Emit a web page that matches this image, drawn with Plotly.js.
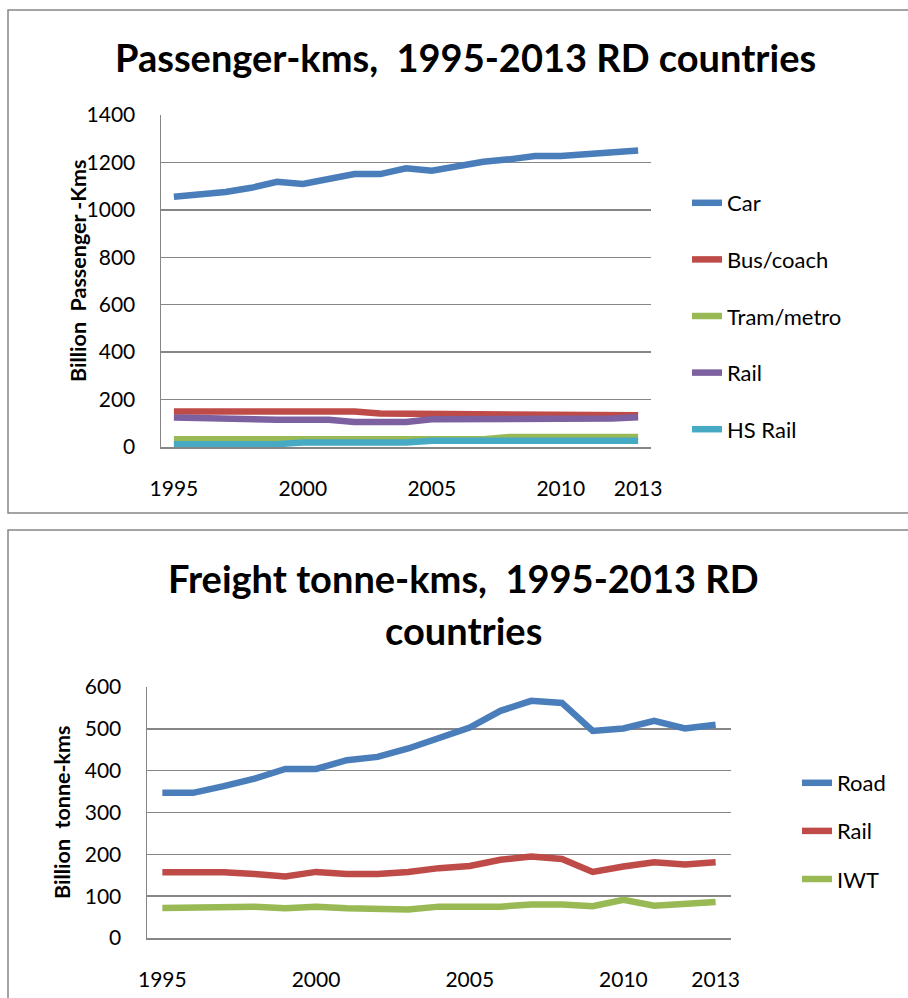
<!DOCTYPE html>
<html>
<head>
<meta charset="utf-8">
<script src="https://cdn.plot.ly/plotly-3.0.1.min.js"></script>
<style>
html,body{margin:0;padding:0;background:#fff;}
#chart{width:908px;height:998px;}
</style>
</head>
<body>
<div id="chart"></div>
<script>
// ---- Data ----
const years = [1995,1996,1997,1998,1999,2000,2001,2002,2003,2004,2005,2006,2007,2008,2009,2010,2011,2012,2013];
const tickYears = [1995,2000,2005,2010,2013];
const tickLabels = ["1995","2000","2005","2010","2013"];

// Passenger-kms (billion)
const car     = [1055,1065,1075,1093,1118,1109,1133,1151,1151,1175,1165,1185,1203,1213,1227,1227,1235,1242,1250];
const bus     = [150,150,150,150,150,150,150,150,141,140,140,140,140,140,135,135,135,131,134];
const rail    = [124,121,115,115,115,115,115,105,105,105,117,117,117,117,117,117,117,120,125];
const tram    = [33,33,33,33,33,33,33,33,33,33,33,33,33,42,42,42,42,42,42];
const hsRail  = [12,12,12,12,12,19,19,19,19,19,26,26,26,26,26,26,26,26,26];

// Freight tonne-kms (billion)
const road    = [347,347,363,381,404,404,425,433,453,477,503,543,567,562,495,501,519,501,510];
const fRail   = [157,157,157,153,147,158,153,153,158,167,172,187,195,189,158,171,181,176,181];
const iwt     = [72,72,72,75,71,75,71,71,68,75,75,75,80,80,76,91,77,81,86];

const passNames = ["Car","Bus/coach","Tram/metro","Rail","HS Rail"];
const passSeries = [car,bus,tram,rail,hsRail];
const passColors = ["#4A7EBB","#BE4B48","#98B954","#7D60A0","#46AAC5"];

const freightNames = ["Road","Rail","IWT"];
const freightSeries = [road,fRail,iwt];
const freightColors = ["#4A7EBB","#BE4B48","#98B954"];

// ---- Helpers ----
const W = 908, H = 998;
const px = v => v / W;
const py = v => 1 - v / H;
const FONT = "Lato, 'Open Sans', sans-serif";
const GRID = "#868686";
const LW = 6.5;

const traces = [];
passSeries.forEach((s, i) => {
  traces.push({
    x: years, y: s, name: passNames[i], type: "scatter", mode: "lines",
    line: {color: passColors[i], width: LW},
    xaxis: "x", yaxis: "y", legend: "legend",
    legendgroup: "p" + i, hoverinfo: "skip"
  });
});
freightSeries.forEach((s, i) => {
  traces.push({
    x: years, y: s, name: freightNames[i], type: "scatter", mode: "lines",
    line: {color: freightColors[i], width: LW},
    xaxis: "x2", yaxis: "y2", legend: "legend2",
    legendgroup: "f" + i, hoverinfo: "skip"
  });
});

function xax(domain, anchor) {
  return {
    domain: domain, anchor: anchor, range: [1994.5, 2013.5],
    tickmode: "array", tickvals: tickYears, ticktext: tickLabels,
    showgrid: false, zeroline: false, showline: true, linecolor: GRID, linewidth: 1.5,
    ticks: "outside", ticklen: 22, tickcolor: "rgba(0,0,0,0)",
    tickfont: {family: FONT, size: 21, color: "#000"}, fixedrange: true
  };
}
function yax(domain, anchor, top, step) {
  return {
    domain: domain, anchor: anchor, range: [0, top], dtick: step, tick0: 0,
    showgrid: true, gridcolor: GRID, gridwidth: 1.5, zeroline: false,
    showline: true, linecolor: GRID, linewidth: 1.5,
    ticks: "outside", ticklen: 20, tickcolor: "rgba(0,0,0,0)",
    tickfont: {family: FONT, size: 21, color: "#000"}, fixedrange: true
  };
}

const layout = {
  width: W, height: H,
  margin: {l: 0, r: 0, t: 0, b: 0},
  paper_bgcolor: "#fff", plot_bgcolor: "#fff",
  showlegend: true,
  xaxis: xax([px(161), px(651)], "y"),
  yaxis: yax([py(447), py(115)], "x", 1400, 200),
  xaxis2: xax([px(147), px(731)], "y2"),
  yaxis2: yax([py(938), py(687)], "x2", 600, 100),
  legend: {
    x: px(687), y: py(182), xanchor: "left", yanchor: "top",
    traceorder: "grouped", tracegroupgap: 25,
    font: {family: FONT, size: 22, color: "#000"}, bgcolor: "rgba(0,0,0,0)"
  },
  legend2: {
    x: px(797), y: py(762), xanchor: "left", yanchor: "top",
    traceorder: "grouped", tracegroupgap: 16.5,
    font: {family: FONT, size: 22, color: "#000"}, bgcolor: "rgba(0,0,0,0)"
  },
  shapes: [
    {type: "rect", xref: "paper", yref: "paper", x0: px(8), x1: 1.02, y0: py(513), y1: py(10),
     line: {color: GRID, width: 1.5}, fillcolor: "rgba(0,0,0,0)", layer: "below"},
    {type: "rect", xref: "paper", yref: "paper", x0: px(8), x1: 1.02, y0: -0.02, y1: py(530),
     line: {color: GRID, width: 1.5}, fillcolor: "rgba(0,0,0,0)", layer: "below"}
  ],
  annotations: [
    {text: "Passenger-kms,  1995-2013 RD countries", xref: "paper", yref: "paper",
     x: px(465), y: py(57), xanchor: "center", yanchor: "middle", showarrow: false,
     font: {family: FONT, size: 38, weight: 700, color: "#000"}},
    {text: "Freight tonne-kms,  1995-2013 RD", xref: "paper", yref: "paper",
     x: px(463), y: py(578), xanchor: "center", yanchor: "middle", showarrow: false,
     font: {family: FONT, size: 38, weight: 700, color: "#000"}},
    {text: "countries", xref: "paper", yref: "paper",
     x: px(463), y: py(630), xanchor: "center", yanchor: "middle", showarrow: false,
     font: {family: FONT, size: 38, weight: 700, color: "#000"}},
    {text: "Billion  Passenger -Kms", xref: "paper", yref: "paper", textangle: -90,
     x: px(78), y: py(271), xanchor: "center", yanchor: "middle", showarrow: false,
     font: {family: FONT, size: 21.5, weight: 700, color: "#000"}},
    {text: "Billion  tonne-kms", xref: "paper", yref: "paper", textangle: -90,
     x: px(62), y: py(813), xanchor: "center", yanchor: "middle", showarrow: false,
     font: {family: FONT, size: 21.5, weight: 700, color: "#000"}}
  ]
};

Plotly.newPlot("chart", traces, layout, {staticPlot: true, displayModeBar: false});
</script>
</body>
</html>
